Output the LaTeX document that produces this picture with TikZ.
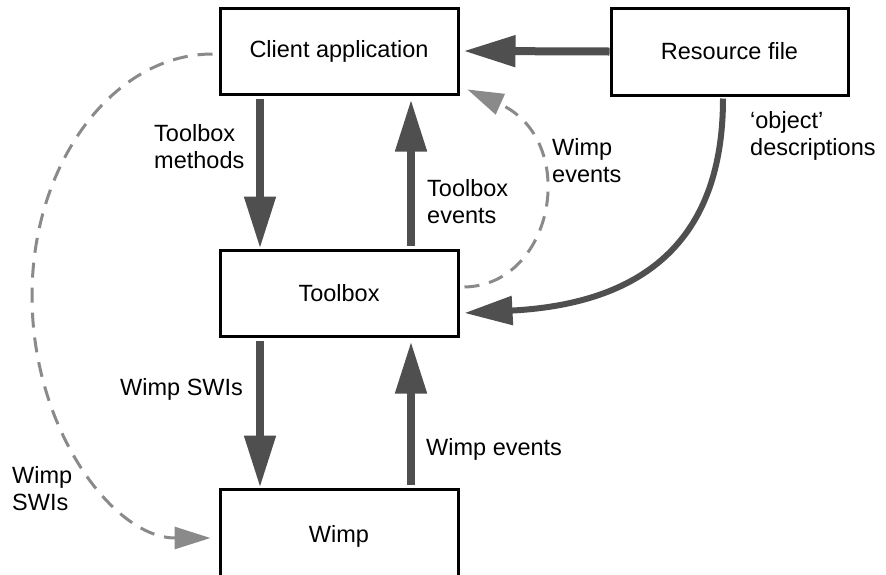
\documentclass[tikz,border=0pt]{standalone}
\usepackage{fontspec}
\setmainfont{Liberation Sans}
\usetikzlibrary{arrows.meta}
\definecolor{dg}{HTML}{4F4F4F}
\definecolor{lg}{HTML}{8A8A8A}
\newcommand{\lblfont}{\fontsize{23.5}{26.5}\selectfont}
\begin{document}
\begin{tikzpicture}[x=1pt,y=-1pt,
  box/.style={draw, line width=3pt, minimum width=238pt, minimum height=86pt, inner sep=0pt, font=\lblfont},
  big/.style={draw=dg, line width=8pt, -{Triangle[length=52pt,width=30pt]}},
  curvy/.style={draw=dg, line width=6pt, -{Triangle[length=48pt,width=28pt]}},
  dsh/.style={draw=lg, line width=3pt, dash pattern=on 15pt off 10pt, -{Triangle[length=36pt,width=22pt]}},
  lbl/.style={inner sep=0pt, font=\lblfont, align=left, anchor=base west}]
\useasboundingbox (0,0) rectangle (886,574);
\clip (0,0) rectangle (886,574);

\node[box] (client) at (339,51) {Client application};
\node[box, minimum width=237pt, minimum height=87pt] (resource) at (729.5,51.5) {Resource file};
\node[box] (toolbox) at (339,293) {Toolbox};
\node[box, minimum height=100pt, text height=17pt, text depth=11pt] (wimp) at (339,539) {Wimp};

% solid thick arrows
\draw[big] (resource.west) -- ([xshift=4pt]client.east);
\draw[big, shorten <=3pt] ([xshift=-79pt]client.south) -- ([xshift=-79pt]toolbox.north);
\draw[big, shorten <=3pt] ([xshift=72pt]toolbox.north) -- ([shift={(72pt,-4pt)}]client.south);
\draw[big, shorten <=3pt] ([xshift=-79pt]toolbox.south) -- ([xshift=-79pt]wimp.north);
\draw[big, shorten <=3pt] ([xshift=72pt]wimp.north) -- ([shift={(72pt,-4pt)}]toolbox.south);

% curved solid arrow
\draw[curvy] ([shift={(-6.5pt,-2pt)}]resource.south) .. controls (723,260) and (620,305) .. ([shift={(5pt,-20pt)}]toolbox.east);

% dashed arrows
\draw[dsh] ([shift={(5pt,6pt)}]toolbox.east) .. controls (555,285) and (580,140) .. ([shift={(8pt,6pt)}]client.south east);
\draw[dsh] ([shift={(-6pt,-3pt)}]client.west) .. controls (114,54) and (32,162) .. (32,296) .. controls (32,430) and (114,538) .. ([shift={(-8pt,1pt)}]wimp.west);

% labels
\node[lbl] (l1) at (154,168) {Toolbox\\methods};
\node[lbl] (l2) at (427,223) {Toolbox\\events};
\node[lbl] (l3) at (552,182) {Wimp\\events};
\node[lbl] (l4) at (750,155) {‘object’\\descriptions};
\node[lbl] (l5) at (120,395) {Wimp SWIs};
\node[lbl] (l6) at (426,455) {Wimp events};
\node[lbl] (l7) at (12,510) {Wimp\\SWIs};
\end{tikzpicture}
\end{document}
